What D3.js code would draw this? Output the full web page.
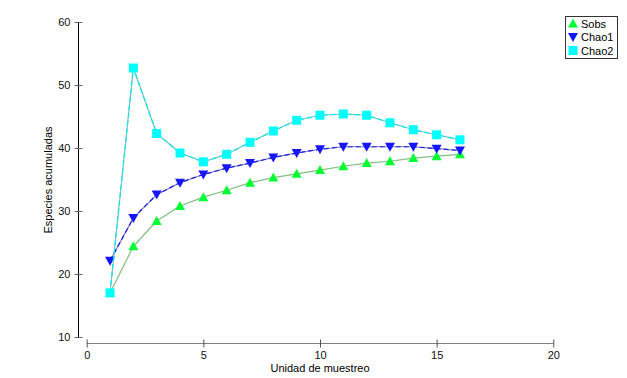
<!DOCTYPE html>
<html>
<head>
<meta charset="utf-8">
<script src="https://cdn.jsdelivr.net/npm/d3@7"></script>
<style>
  body { margin: 0; background: #fff; }
  svg { display: block; font-family: "Liberation Sans", Arial, sans-serif; }
</style>
</head>
<body>
<svg id="chart" width="627" height="378"></svg>
<script>
// muestras (unidad de muestreo)
const units = [1, 2, 3, 4, 5, 6, 7, 8, 9, 10, 11, 12, 13, 14, 15, 16];
const sobs  = [17, 24.4, 28.4, 30.8, 32.2, 33.3, 34.5, 35.3, 35.9, 36.5, 37.1, 37.6, 37.9, 38.4, 38.7, 39.0];
const chao1 = [22.1, 28.9, 32.6, 34.5, 35.8, 36.8, 37.6, 38.5, 39.2, 39.8, 40.2, 40.2, 40.2, 40.2, 39.9, 39.6];
const chao2 = [17, 52.7, 42.3, 39.2, 37.8, 39.0, 40.9, 42.7, 44.4, 45.2, 45.4, 45.2, 44.0, 42.9, 42.1, 41.3];
const xTicks = [0, 5, 10, 15, 20];
const yTicks = [10, 20, 30, 40, 50, 60];

const series = [
    { name: "Sobs",  values: sobs,  fill: "#00ff33", base: "#7fbf7f", dash: null,    symbol: "up" },
    { name: "Chao1", values: chao1, fill: "#1515ff", base: "#8585c5", dash: "#1a1ae0", symbol: "down" },
    { name: "Chao2", values: chao2, fill: "#00ffff", base: "#7fbfbf", dash: "#00e8f0", symbol: "square" }
];

const svg = d3.select("#chart");

const x = d3.scaleLinear().domain([0, 20]).range([86.7, 553.3]);
const y = d3.scaleLinear().domain([10, 60]).range([337, 22]);

// ejes
const xAxis = svg.append("g")
    .attr("transform", "translate(0,343.5)")
    .call(d3.axisBottom(x).tickValues(xTicks).tickSize(4).tickSizeOuter(0).tickPadding(4));
xAxis.select("path.domain").attr("stroke", "#808080").attr("d", "M" + x(0) + ",0H" + x(20));
xAxis.selectAll(".tick line").attr("y1", -4).attr("stroke", "#555");
xAxis.selectAll("text").attr("font-size", 11).attr("fill", "#111");

const yAxis = svg.append("g")
    .attr("transform", "translate(78.5,0)")
    .call(d3.axisLeft(y).tickValues(yTicks).tickSize(4).tickSizeOuter(0).tickPadding(4));
yAxis.select("path.domain").attr("stroke", "#000").attr("d", "M0," + y(10) + "V" + y(60));
yAxis.selectAll(".tick line").attr("x1", -4).attr("x2", 4).attr("stroke", "#666");
yAxis.selectAll("text").attr("font-size", 11).attr("fill", "#111");

svg.append("text")
    .attr("x", 320).attr("y", 372)
    .attr("text-anchor", "middle")
    .attr("font-size", 11)
    .text("Unidad de muestreo");

svg.append("text")
    .attr("transform", "translate(52,180) rotate(-90)")
    .attr("text-anchor", "middle")
    .attr("font-size", 11)
    .text("Especies acumuladas");

// lineas y marcadores
const line = d3.line().x((d, i) => x(units[i])).y(d => y(d));

function marker(sel, symbol, cx, cy, fill) {
    if (symbol === "square") {
        sel.append("rect").attr("x", cx - 4.5).attr("y", cy - 4.5)
            .attr("width", 9).attr("height", 9).attr("fill", fill);
    } else if (symbol === "up") {
        sel.append("path").attr("fill", fill)
            .attr("d", `M${cx},${cy - 5}L${cx + 5},${cy + 4}L${cx - 5},${cy + 4}Z`);
    } else {
        sel.append("path").attr("fill", fill)
            .attr("d", `M${cx - 5},${cy - 4}L${cx + 5},${cy - 4}L${cx},${cy + 5}Z`);
    }
}

series.forEach(s => {
    const g = svg.append("g");
    g.append("path").attr("d", line(s.values))
        .attr("fill", "none").attr("stroke", s.base).attr("stroke-width", 1.2);
    if (s.dash) {
        g.append("path").attr("d", line(s.values))
            .attr("fill", "none").attr("stroke", s.dash).attr("stroke-width", 1.2)
            .attr("stroke-dasharray", "5,3");
    }
    s.values.forEach((v, i) => marker(g, s.symbol, x(units[i]), y(v), s.fill));
});

// leyenda
const legend = svg.append("g");
legend.append("rect")
    .attr("x", 565.5).attr("y", 16.5).attr("width", 52).attr("height", 42)
    .attr("fill", "#fff").attr("stroke", "#333");
series.forEach((s, i) => {
    const ly = 23.5 + i * 13.5;
    marker(legend, s.symbol, 573, ly, s.fill);
    legend.append("text")
        .attr("x", 581).attr("y", ly + 4)
        .attr("font-size", 11)
        .text(s.name);
});
</script>
</body>
</html>
